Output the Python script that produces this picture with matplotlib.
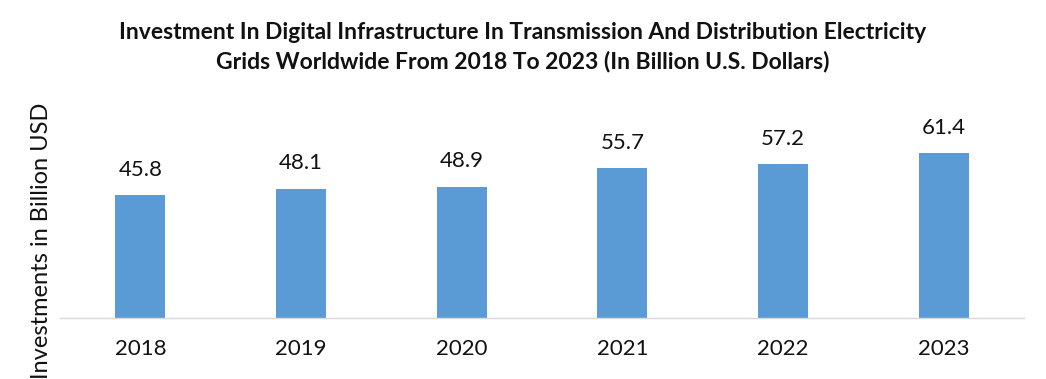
import matplotlib
matplotlib.use("Agg")
import matplotlib.pyplot as plt

years = ["2018", "2019", "2020", "2021", "2022", "2023"]
investment = [45.8, 48.1, 48.9, 55.7, 57.2, 61.4]

plt.rcParams['font.family'] = ['Lato', 'DejaVu Sans']

fig = plt.figure(figsize=(10.46, 3.79), dpi=100)
ax = fig.add_axes([0.0574, 0.161, 0.9216, 0.567])

x = range(len(years))
bars = ax.bar(x, investment, width=0.31, color="#5B9BD5")
for rect, val in zip(bars, investment):
    ax.annotate("%.1f" % val, (rect.get_x() + rect.get_width() / 2, rect.get_height()),
                xytext=(0, 11), textcoords="offset points",
                ha="center", va="bottom", fontsize=16, color="#111111")

ax.set_xlim(-0.5, len(years) - 0.5)
ax.set_ylim(0, 80)
ax.set_xticks(list(x))
ax.set_xticklabels(years, fontsize=16, color="#111111")
ax.tick_params(axis="x", length=0, pad=15)
ax.set_yticks([])
for side in ["top", "right", "left"]:
    ax.spines[side].set_visible(False)
ax.spines["bottom"].set_color("#D9D9D9")
ax.spines["bottom"].set_linewidth(1)

fig.text(0.040, 0.364, "Investments in Billion USD", rotation=90,
         ha="center", va="center", fontsize=17, color="#111111")
fig.text(0.5, 0.876,
         "Investment In Digital Infrastructure In Transmission And Distribution Electricity\n"
         "Grids Worldwide From 2018 To 2023 (In Billion U.S. Dollars)",
         ha="center", va="center", fontsize=16.5, fontweight="bold",
         linespacing=1.4, color="#111111")

fig.savefig("out.png", dpi=100)
